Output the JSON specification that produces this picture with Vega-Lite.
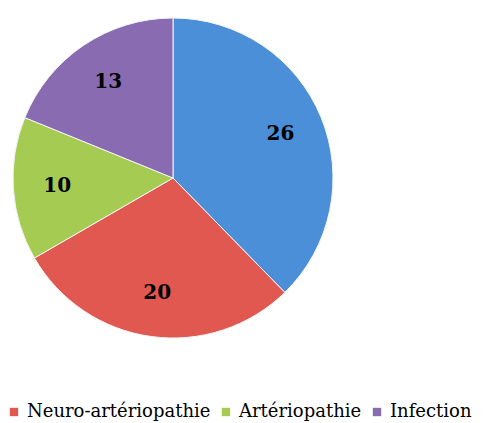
{
  "$schema": "https://vega.github.io/schema/vega-lite/v6.json",
  "autosize": "none",
  "width": 346,
  "height": 356,
  "padding": {"left": 0, "top": 0, "right": 139, "bottom": 67},
  "background": "white",
  "config": {
    "view": {"stroke": null},
    "legend": {"labelFont": "DejaVu Serif", "labelFontSize": 18, "labelColor": "#000000", "padding": 0}
  },
  "data": {
    "values": [
      {"cat": "Neuropathie", "value": 26, "order": 1},
      {"cat": "Neuro-artériopathie", "value": 20, "order": 2},
      {"cat": "Artériopathie", "value": 10, "order": 3},
      {"cat": "Infection", "value": 13, "order": 4}
    ]
  },
  "encoding": {
    "theta": {"field": "value", "type": "quantitative", "stack": true},
    "order": {"field": "order", "type": "quantitative"},
    "color": {
      "field": "cat",
      "type": "nominal",
      "sort": ["Neuropathie", "Neuro-artériopathie", "Artériopathie", "Infection"],
      "scale": {
        "domain": ["Neuropathie", "Neuro-artériopathie", "Artériopathie", "Infection"],
        "range": ["#4A8FD8", "#E0584F", "#A6CB52", "#896BB2"]
      },
      "legend": {
        "values": ["Neuro-artériopathie", "Artériopathie", "Infection"],
        "title": null,
        "orient": "none",
        "direction": "horizontal",
        "legendX": 5,
        "legendY": 403,
        "symbolType": "square",
        "symbolSize": 70,
        "symbolStrokeWidth": 0,
        "labelOffset": 4,
        "columnPadding": 6,
        "labelLimit": 400
      }
    }
  },
  "layer": [
    {
      "mark": {"type": "arc", "outerRadius": 160, "stroke": "#f4f4f4", "strokeWidth": 1}
    },
    {
      "mark": {
        "type": "text",
        "radius": 116,
        "font": "DejaVu Serif",
        "fontSize": 20,
        "fontWeight": "bold",
        "color": "#000000"
      },
      "encoding": {
        "text": {"field": "value", "type": "quantitative"},
        "color": {"value": "#000000"}
      }
    }
  ]
}
